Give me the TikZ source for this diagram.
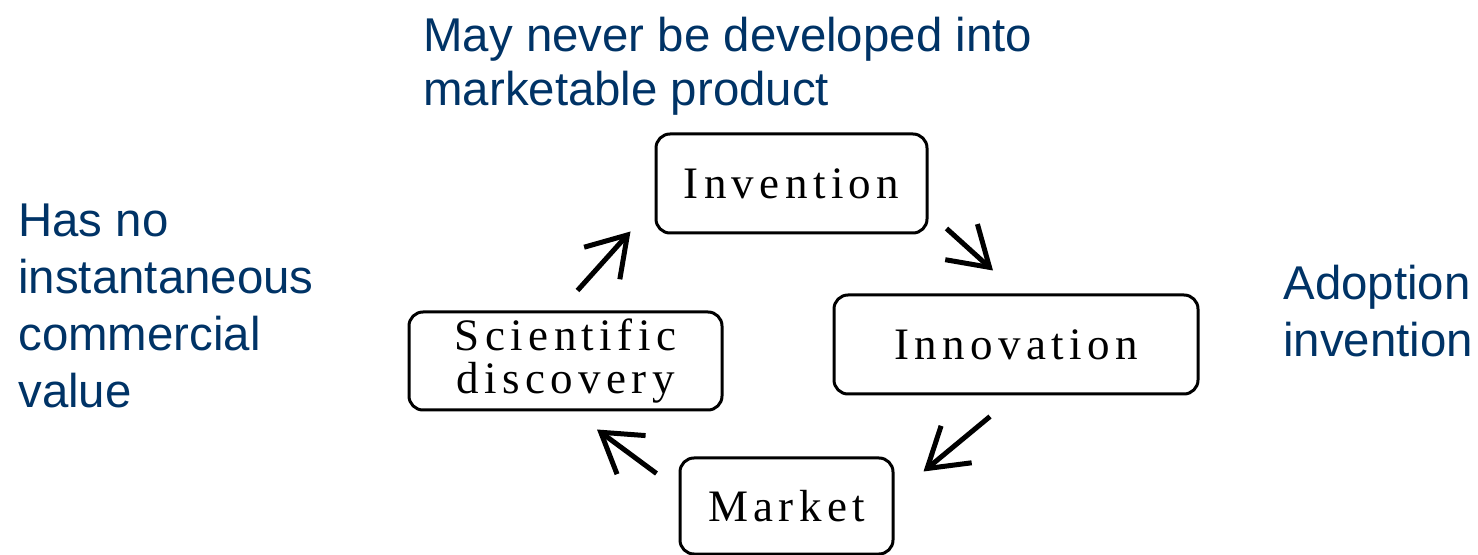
\documentclass[tikz,border=0pt]{standalone}
\usepackage{fontspec}
\setmainfont{Liberation Sans}
\newfontfamily\stagefont[LetterSpace=12]{Liberation Serif}
\usetikzlibrary{arrows.meta}
\definecolor{notecol}{RGB}{0,51,102}

\begin{document}
\begin{tikzpicture}[x=0.5pt, y=-0.5pt,
  stage/.style={draw, line width=1.5pt, rounded corners=7pt, inner sep=0pt, align=center,
    font=\stagefont\fontsize{22.5pt}{21.5pt}\selectfont},
  note/.style={anchor=north west, inner sep=0pt, align=left, text=notecol,
    font=\fontsize{23.7pt}{28.5pt}\selectfont},
  cyc/.style={line width=2.5pt, -{Straight Barb[length=19pt, width=24pt]}}]
\useasboundingbox (0,0) rectangle (1478,555);
% the four stages
\node[stage, minimum width=135.5pt, minimum height=49.5pt] (inv) at (791.5,183.5) {Invention};
\node[stage, minimum width=182pt, minimum height=49.5pt] (inn) at (1016,344.5) {Innovation};
\node[stage, minimum width=106.5pt, minimum height=48pt] (mkt) at (786.5,506) {Market};
\node[stage, minimum width=156.5pt, minimum height=49pt] (sci) at (565.5,361) {Scientific\\discovery};
% arrows round the cycle
\draw[cyc] ([shift={(12,-20)}]sci.north) -- ([shift={(-24,-3)}]inv.south west);
\draw[cyc] ([shift={(18,-6)}]inv.south east) -- ([shift={(-23,-23)}]inn.north);
\draw[cyc] ([shift={(-26,21)}]inn.south) -- ([shift={(29,15)}]mkt.north east);
\draw[cyc] ([shift={(-22,17)}]mkt.north west) -- ([shift={(31.5,18)}]sci.south);
% side notes
\node[note, font=\fontsize{23.7pt}{27pt}\selectfont] (nevermarket) at (423,17) {May never be developed into\\marketable product};
\node[note] (novalue) at (18,203) {Has no\\instantaneous\\commercial\\value};
\node[note] (adoption) at (1283,265) {Adoption\\invention};
\end{tikzpicture}
\end{document}
